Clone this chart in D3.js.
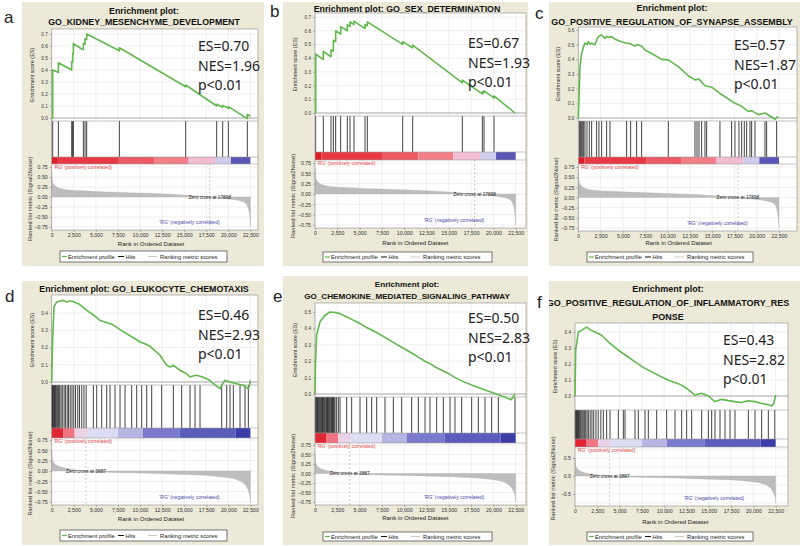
<!DOCTYPE html>
<html><head><meta charset="utf-8">
<script src="https://cdn.jsdelivr.net/npm/d3@7"></script>
<style>body{margin:0;background:#fff;} svg{display:block;font-family:"Liberation Sans",Arial,sans-serif;}</style>
</head><body><svg id="c" width="800" height="546"></svg>
<script>
// ---------------- DATA ----------------
const panelLabels = ["a","b","c","d","e","f"];
const titleLines = [
  ["Enrichment plot:", "GO_KIDNEY_MESENCHYME_DEVELOPMENT"],
  ["Enrichment plot: GO_SEX_DETERMINATION"],
  ["Enrichment plot:", "GO_POSITIVE_REGULATION_OF_SYNAPSE_ASSEMBLY"],
  ["Enrichment plot: GO_LEUKOCYTE_CHEMOTAXIS"],
  ["Enrichment plot:", "GO_CHEMOKINE_MEDIATED_SIGNALING_PATHWAY"],
  ["Enrichment plot:", "GO_POSITIVE_REGULATION_OF_INFLAMMATORY_RES", "PONSE"]
];
const esValues  = ["0.70","0.67","0.57","0.46","0.50","0.43"];
const nesValues = ["1.96","1.93","1.87","2.93","2.83","2.82"];
const pLabels   = ["p<0.01","p<0.01","p<0.01","p<0.01","p<0.01","p<0.01"];
const esTickMax = [0.7, 0.7, 0.6, 0.4, 0.5, 0.4];
const rankTicks = [0,2500,5000,7500,10000,12500,15000,17500,20000,22500];
const metricTicks = [0.75,0.5,0.25,0,-0.25,-0.5,-0.75];
const metricTicksF = [0.5,0,-0.5];
const zeroCross = [17898, 3887];
const posLabel = "'RG' (positively correlated)";
const negLabel = "'RG' (negatively correlated)";
const legendLabels = ["Enrichment profile","Hits","Ranking metric scores"];

// ranked list metric, dataset 1 (a,b,c) and dataset 2 (d,e,f): [rank, value]
const metric1 = [[0,0.62],[60,0.45],[200,0.33],[500,0.26],[1000,0.21],[2000,0.175],[3500,0.155],[5000,0.14],[7500,0.12],[10000,0.1],[12500,0.08],[15000,0.05],[17898,0],[19000,-0.025],[20000,-0.05],[21000,-0.08],[21800,-0.13],[22200,-0.25],[22420,-0.5],[22500,-0.75]];
const metric2 = [[0,0.5],[60,0.32],[200,0.22],[500,0.15],[1000,0.1],[2000,0.05],[3887,0],[6000,-0.03],[10000,-0.05],[14000,-0.08],[17500,-0.11],[19500,-0.15],[20800,-0.2],[21600,-0.28],[22100,-0.4],[22420,-0.6],[22500,-0.75]];

// colour bar segments [start, end, colour]
const bar1 = [[0,700,"#dc1e2c"],[700,7600,"#e83a44"],[7600,11600,"#ed5a63"],[11600,15500,"#f27f86"],[15500,18500,"#f4bcd2"],[18500,20300,"#cfcdeb"],[20300,22500,"#5a58b6"]];
const bar2 = [[0,1300,"#e02535"],[1300,2600,"#f07482"],[2600,4000,"#ead2e6"],[4000,7500,"#dcdcf2"],[7500,10300,"#b6b6e2"],[10300,14500,"#7a7acd"],[14500,20800,"#5c5cbc"],[20800,22500,"#3c3ca8"]];

// running enrichment score curves [rank, ES]
const esA = [[0,0],[113,0],[113,0.40],[755,0.38],[755,0.46],[2264,0.40],[2264,0.47],[2378,0.465],[2378,0.54],[2453,0.535],[2453,0.62],[3400,0.575],[3585,0.57],[3585,0.62],[3774,0.615],[3774,0.66],[3963,0.655],[3963,0.70],[7661,0.56],[7661,0.585],[15171,0.26],[15171,0.275],[18680,0.10],[18680,0.115],[19360,0.09],[19360,0.105],[20000,0.08],[20000,0.095],[22150,-0.005],[22150,0.03],[22500,0.015]];
const esB = [[0,0],[75,0],[75,0.43],[934,0.39],[934,0.45],[1794,0.41],[1794,0.46],[2055,0.45],[2055,0.53],[2317,0.52],[2317,0.60],[2877,0.575],[2877,0.63],[3625,0.60],[3625,0.645],[3924,0.63],[3924,0.665],[4372,0.645],[4372,0.67],[5606,0.615],[5606,0.645],[5867,0.635],[5867,0.665],[9828,0.50],[9828,0.52],[10950,0.475],[10950,0.495],[16518,0.22],[16518,0.24],[18760,0.14],[18760,0.155],[18947,0.147],[18947,0.162],[20068,0.11],[20068,0.125],[22420,0]];
const esC = [[0,0],[112,0.2],[187,0.35],[374,0.44],[600,0.49],[747,0.51],[972,0.50],[1121,0.52],[1300,0.505],[1495,0.51],[1869,0.50],[2055,0.53],[2242,0.555],[2616,0.566],[2990,0.543],[3176,0.555],[3363,0.55],[3737,0.555],[4111,0.537],[4858,0.52],[5419,0.51],[5606,0.51],[5867,0.505],[6353,0.49],[6540,0.50],[6727,0.50],[7100,0.49],[7474,0.464],[8221,0.44],[9343,0.40],[10090,0.396],[11211,0.35],[12332,0.288],[13080,0.26],[13528,0.265],[14201,0.22],[14948,0.21],[16069,0.16],[17564,0.10],[18300,0.08],[19059,0.045],[19432,0.05],[20180,0.023],[20927,0.034],[21675,0.007],[22048,-0.01],[22300,0.007],[22420,0.005]];
const esD = [[0,0],[113,0.26],[264,0.435],[566,0.464],[944,0.47],[1321,0.473],[1698,0.464],[2000,0.47],[2264,0.47],[2600,0.462],[3019,0.454],[3500,0.435],[3963,0.415],[4700,0.39],[5472,0.357],[6200,0.345],[6982,0.33],[7700,0.305],[8492,0.28],[9300,0.255],[10001,0.232],[10600,0.22],[11133,0.207],[11700,0.18],[12266,0.155],[12700,0.12],[13020,0.097],[13398,0.087],[13775,0.097],[14200,0.08],[14530,0.068],[15285,0.048],[15662,0.029],[16000,0.035],[16417,0.039],[17000,0.03],[17549,0.019],[17900,0.01],[18304,-0.01],[18700,-0.025],[19059,-0.039],[19350,-0.01],[19625,0.01],[20191,0],[20600,-0.005],[20946,-0.01],[21300,-0.015],[21700,-0.019],[22000,-0.03],[22266,-0.039],[22400,-0.02],[22500,0.01]];
const esE = [[0,0],[60,0.2],[187,0.36],[560,0.44],[1121,0.48],[1682,0.50],[2242,0.497],[2803,0.49],[3550,0.47],[4111,0.455],[5045,0.43],[5792,0.405],[6913,0.375],[7848,0.345],[8782,0.315],[9716,0.285],[10837,0.25],[11585,0.225],[12332,0.2],[12893,0.185],[13640,0.16],[14388,0.14],[15135,0.12],[15695,0.1],[16443,0.08],[17564,0.055],[18311,0.04],[19059,0.025],[19806,0.01],[20554,-0.005],[21300,-0.02],[22000,-0.035],[22420,0.0]];
const esF = [[0,0],[75,0.286],[374,0.40],[747,0.41],[1000,0.42],[1308,0.431],[1682,0.415],[2242,0.40],[2990,0.38],[3900,0.33],[4858,0.286],[5800,0.25],[6727,0.213],[7600,0.18],[8595,0.151],[9500,0.125],[10464,0.099],[11200,0.085],[11958,0.068],[12700,0.04],[13453,0.006],[14201,0.017],[14948,0],[15695,-0.035],[16443,-0.021],[17190,-0.029],[17900,-0.035],[18685,-0.041],[19400,-0.03],[20180,-0.035],[20800,-0.045],[21301,-0.05],[21700,-0.055],[22048,-0.062],[22300,-0.046],[22500,0.006]];
const esCurves = [esA, esB, esC, esD, esE, esF];

// gene set hit positions (ranks)
const hitsA = [113,755,2264,2378,2453,3585,3774,3963,7661,15171,18680,19360,20000,22150];
const hitsB = [75,934,1794,2055,2317,2877,3625,3924,4372,5606,5867,9828,10950,16518,18760,18947,20068];
const hitsC = [112,224,336,448,598,747,972,1233,1495,2055,2317,2616,3176,3550,5419,5867,6540,7100,10090,13080,13304,13528,13827,14201,14388,15882,17190,17564,18013,18312,18610,18872,19246,19432,19806,20927,21114,22235];
const hitsD = [30,80,150,230,320,420,520,640,760,900,1050,1200,1400,1550,1750,1900,2100,2300,2500,2700,2950,3150,3400,3650,3900,4717,5095,5661,6227,6604,7171,7737,8303,9058,9624,10190,10756,11322,12454,13775,14719,15662,16228,16794,19247,19813,20191,20568,21323,21889,22266];
const hitsE = [40,110,187,280,374,470,560,650,747,840,934,1030,1121,1220,1308,1400,1495,1590,1682,1780,1869,1960,2055,2150,2242,2429,2616,2803,3550,4111,5045,5792,6353,6913,7848,8782,9716,10837,11585,12332,12893,13640,14388,15135,15695,16443,17564,18311,19059,19806,20554,22420];
const hitsF = [30,80,150,220,300,390,480,580,680,800,920,1050,1200,1350,1500,1700,1900,2100,2350,2600,2900,3176,3550,3924,4858,5419,5606,6727,7100,7848,8221,9156,10277,11211,11958,12519,13080,14201,14948,15322,15695,16256,16817,17377,17938,19433,20180,20927,21675,22400];
const hitSets = [hitsA, hitsB, hitsC, hitsD, hitsE, hitsF];

// ---------------- LAYOUT ----------------
const layouts = [
 {label:[4,23], box:[22,2,264,266], tx:144, ty:[13.5,24.5], tw:192, x0:51.7, w:22.08, right:258, esTop:29, esBottom:121, esZeroY:118, esTopY:34, hitsBottom:157, barBottom:164, mBottom:230, m75:167, mN75:227, axisY:245.5, legend:[60,251,227,262], stats:[198,51], ds:0},
 {label:[270,17], box:[283,2,528,266], tx:407, ty:[11.5], tw:187, x0:315, w:22.3, right:526, esTop:13, esBottom:116, esZeroY:113, esTopY:17, hitsBottom:152, barBottom:160, mBottom:228, m75:163, mN75:225, axisY:244.5, legend:[323,252,492,262], stats:[468,48], ds:0},
 {label:[535,19], box:[549,2,800,266], tx:672, ty:[10.5,24.5], tw:242, x0:578.3, w:22.3, right:797, esTop:27, esBottom:121, esZeroY:118, esTopY:30, hitsBottom:157, barBottom:164, mBottom:231, m75:167, mN75:228, axisY:244.5, legend:[587,252,753,262], stats:[734,50], ds:0},
 {label:[5,302], box:[22,281,264,545], tx:144, ty:[291.5], tw:210, x0:51.7, w:22.08, right:258, esTop:295, esBottom:385, esZeroY:382, esTopY:313, hitsBottom:428, barBottom:438, mBottom:505, m75:440, mN75:502, axisY:521, legend:[60,530,227,541], stats:[198,320], ds:1},
 {label:[273,302], box:[283,276,528,545], tx:407, ty:[286.5,298.5], tw:206, x0:315, w:22.3, right:526, esTop:303, esBottom:397, esZeroY:394, esTopY:312, hitsBottom:433, barBottom:443, mBottom:505, m75:445, mN75:502, axisY:519.5, legend:[323,532,492,541], stats:[468,323], ds:1},
 {label:[537,308], box:[549,281,800,545], tx:668, ty:[291.5,306,320], tw:243, x0:575, w:22.3, right:788, esTop:323, esBottom:410, esZeroY:396, esTopY:332, hitsBottom:439, barBottom:447, mBottom:506, m75:449, mN75:503, axisY:524, legend:[587,532,753,541], stats:[723,345], ds:1, fTicks:true}
];

const svg = d3.select("#c");
const green = "#62b84e";

layouts.forEach((L, i) => {
  const g = svg.append("g");
  const metric = L.ds === 0 ? metric1 : metric2;
  const bar = L.ds === 0 ? bar1 : bar2;
  const zc = zeroCross[L.ds];

  const cid = "clip" + i;
  g.append("clipPath").attr("id", cid).append("rect")
    .attr("x", L.box[0]).attr("y", L.box[1]).attr("width", L.box[2]-L.box[0]).attr("height", L.box[3]-L.box[1]);
  const p = g.append("g").attr("clip-path", `url(#${cid})`);
  p.append("rect").attr("x", L.box[0]).attr("y", L.box[1]).attr("width", L.box[2]-L.box[0]).attr("height", L.box[3]-L.box[1]).attr("fill", "#ece9d8");

  const tt = titleLines[i].map((t, k) => p.append("text").attr("x", L.tx).attr("y", L.ty[k])
    .attr("text-anchor", "middle").attr("font-weight", "bold").attr("font-size", 9).attr("fill", "#111").text(t));
  const maxW = d3.max(tt, t => t.node().getComputedTextLength());
  const fs = Math.min(9.6, 9 * L.tw / maxW);
  tt.forEach(t => t.attr("font-size", fs));

  g.append("text").attr("x", L.label[0]).attr("y", L.label[1]).attr("font-size", 17)
    .attr("font-family", "'Liberation Sans',Arial").attr("fill", "#222").text(panelLabels[i]);

  const x = d3.scaleLinear().domain([0, 22500]).range([L.x0, L.x0 + 9*L.w]);
  const yE = d3.scaleLinear().domain([0, esTickMax[i]]).range([L.esZeroY, L.esTopY]);
  const yM = d3.scaleLinear().domain([-0.75, 0.75]).range([L.mN75, L.m75]);
  const W = L.right - L.x0;

  p.append("rect").attr("x", L.x0).attr("y", L.esTop).attr("width", W).attr("height", L.mBottom - L.esTop).attr("fill", "#fff");

  const gridC = "#e4e4e4";
  rankTicks.forEach(r => {
    [[L.esTop, L.esBottom], [L.barBottom, L.mBottom]].forEach(([a, b]) =>
      p.append("line").attr("x1", x(r)).attr("x2", x(r)).attr("y1", a).attr("y2", b).attr("stroke", gridC).attr("stroke-width", 0.6));
  });
  d3.range(0, esTickMax[i] + 0.001, 0.1).forEach(v =>
    p.append("line").attr("x1", L.x0).attr("x2", L.right).attr("y1", yE(v)).attr("y2", yE(v)).attr("stroke", v === 0 ? "#9a9a9a" : gridC).attr("stroke-width", v === 0 ? 0.9 : 0.6));
  const mt = L.fTicks ? metricTicksF : metricTicks;
  metricTicks.forEach(v =>
    p.append("line").attr("x1", L.x0).attr("x2", L.right).attr("y1", yM(v)).attr("y2", yM(v)).attr("stroke", gridC).attr("stroke-width", 0.6));

  const area = d3.area().x(d => x(d[0])).y0(yM(0)).y1(d => yM(d[1])).curve(d3.curveMonotoneX);
  p.append("path").datum(metric).attr("d", area).attr("fill", "#bdbdbd").attr("stroke", "#b0b0b0").attr("stroke-width", 0.3);
  p.append("line").attr("x1", x(zc)).attr("x2", x(zc)).attr("y1", L.barBottom).attr("y2", L.mBottom)
    .attr("stroke", "#a8a8a8").attr("stroke-width", 0.6).attr("stroke-dasharray", "2,2");
  p.append("text").attr("x", x(zc)).attr("y", yM(0)).attr("dy", "0.35em").attr("text-anchor", "middle")
    .attr("font-size", 4.8).attr("fill", "#222").text("Zero cross at " + zc);
  p.append("text").attr("x", L.x0 + 2).attr("y", L.barBottom + 5).attr("font-size", 5).attr("fill", "#e04848").text(posLabel);
  p.append("text").attr("x", x(15600)).attr("y", L.mN75 - 3).attr("text-anchor", "middle").attr("font-size", 5).attr("fill", "#4848a8").text(negLabel);

  bar.forEach(s => p.append("rect").attr("x", x(s[0])).attr("y", L.hitsBottom).attr("width", x(s[1]) - x(s[0])).attr("height", L.barBottom - L.hitsBottom).attr("fill", s[2]));

  hitSets[i].forEach(h => p.append("line").attr("x1", x(h)).attr("x2", x(h)).attr("y1", L.esBottom).attr("y2", L.hitsBottom).attr("stroke", "#111").attr("stroke-width", 0.8));

  [L.esBottom, L.hitsBottom, L.barBottom].forEach(yy => p.append("line").attr("x1", L.x0).attr("x2", L.right).attr("y1", yy).attr("y2", yy).attr("stroke", "#9a9a9a").attr("stroke-width", 0.6));
  p.append("rect").attr("x", L.x0).attr("y", L.esTop).attr("width", W).attr("height", L.mBottom - L.esTop).attr("fill", "none").attr("stroke", "#9a9a9a").attr("stroke-width", 0.7);

  const line = d3.line().x(d => x(d[0])).y(d => yE(d[1]));
  p.append("path").datum(esCurves[i]).attr("d", line).attr("fill", "none").attr("stroke", green).attr("stroke-width", 1.6).attr("stroke-linejoin", "round");

  const axE = d3.axisLeft(yE).tickValues(d3.range(0, esTickMax[i] + 0.001, 0.1)).tickFormat(d3.format(".1f")).tickSize(2).tickPadding(2);
  const gE = p.append("g").attr("transform", `translate(${L.x0},0)`).call(axE);
  const axM = d3.axisLeft(yM).tickValues(mt).tickFormat(L.fTicks ? d3.format(".1f") : d3.format(".2f")).tickSize(2).tickPadding(2);
  const gM = p.append("g").attr("transform", `translate(${L.x0},0)`).call(axM);
  const axX = d3.axisBottom(x).tickValues(rankTicks).tickFormat(d3.format(",")).tickSize(2).tickPadding(1.5);
  const gX = p.append("g").attr("transform", `translate(0,${L.mBottom})`).call(axX);
  [gE, gM, gX].forEach(a => { a.select(".domain").remove(); a.selectAll("line").attr("stroke", "#777").attr("stroke-width", 0.5); a.selectAll("text").attr("font-family", "'Liberation Sans',Arial").attr("fill", "#333"); });
  gE.selectAll("text").attr("font-size", 4.6);
  gM.selectAll("text").attr("font-size", 5.2);
  gX.selectAll("text").attr("font-size", 5.2);

  p.append("text").attr("transform", `translate(${L.x0 - 18},${(L.esTop + L.esBottom) / 2}) rotate(-90)`).attr("text-anchor", "middle")
    .attr("font-size", 5.4).attr("fill", "#333").text("Enrichment score (ES)");
  p.append("text").attr("transform", `translate(${L.x0 - 20},${(L.barBottom + L.mBottom) / 2 + 2}) rotate(-90)`).attr("text-anchor", "middle")
    .attr("font-size", 5.7).attr("fill", "#333").text("Ranked list metric (Signal2Noise)");
  p.append("text").attr("x", x(11250)).attr("y", L.axisY).attr("text-anchor", "middle").attr("font-size", 6).attr("fill", "#222").text("Rank in Ordered Dataset");

  const [lx0, ly0, lx1, ly1] = L.legend;
  const lg = p.append("g");
  lg.append("rect").attr("x", lx0).attr("y", ly0).attr("width", lx1 - lx0).attr("height", ly1 - ly0).attr("fill", "#fff").attr("stroke", "#555").attr("stroke-width", 0.8);
  const ly = (ly0 + ly1) / 2;
  const items = [[2, 7, green, 1.2], [58, 64, "#111", 1], [88, 97, "#c8c8c8", 1]];
  const tx = [8, 65.5, 100];
  items.forEach((it, k) => {
    lg.append("line").attr("x1", lx0 + it[0]).attr("x2", lx0 + it[1]).attr("y1", ly).attr("y2", ly).attr("stroke", it[2]).attr("stroke-width", it[3]);
    lg.append("text").attr("x", lx0 + tx[k]).attr("y", ly).attr("dy", "0.35em").attr("font-size", 5.8).attr("fill", "#222").text(legendLabels[k]);
  });

  const st = [`ES=${esValues[i]}`, `NES=${nesValues[i]}`, pLabels[i]];
  st.forEach((s, k) => g.append("text").attr("x", L.stats[0]).attr("y", L.stats[1] + k * 19.5)
    .attr("font-family", "'Noto Sans',sans-serif").attr("font-size", 14).attr("fill", "#222").text(s));
});
</script>
</body></html>
